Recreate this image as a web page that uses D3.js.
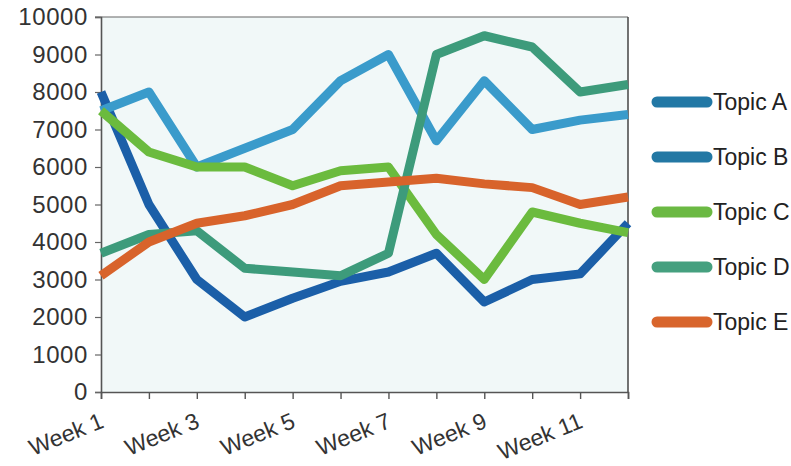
<!DOCTYPE html>
<html>
<head>
<meta charset="utf-8">
<script src="https://cdn.jsdelivr.net/npm/d3@7"></script>
<style>
  html, body { margin: 0; padding: 0; background: #ffffff; }
  svg { display: block; font-family: "Liberation Sans", Arial, sans-serif; }
</style>
</head>
<body>
<svg id="chart" width="791" height="466"></svg>
<script>
// Weekly mentions per topic
const weeks = ["Week 1","Week 2","Week 3","Week 4","Week 5","Week 6","Week 7","Week 8","Week 9","Week 10","Week 11","Week 12"];
const topicNames = ["Topic A","Topic B","Topic C","Topic D","Topic E"];
const topicA = [8000, 5000, 3000, 2000, 2500, 2950, 3200, 3700, 2400, 3000, 3150, 4500];
const topicB = [7500, 8000, 6000, 6500, 7000, 8300, 9000, 6700, 8300, 7000, 7250, 7400];
const topicC = [7500, 6400, 6000, 6000, 5500, 5900, 6000, 4200, 3000, 4800, 4500, 4250];
const topicD = [3700, 4200, 4300, 3300, 3200, 3100, 3700, 9000, 9500, 9200, 8000, 8200];
const topicE = [3100, 4000, 4500, 4700, 5000, 5500, 5600, 5700, 5550, 5450, 5000, 5200];
const yTicks = [0, 1000, 2000, 3000, 4000, 5000, 6000, 7000, 8000, 9000, 10000];
const weekLabels = ["Week 1","Week 3","Week 5","Week 7","Week 9","Week 11"];

const lineColors = ["#1b5fa8", "#3a9bcb", "#6bbb3e", "#3d9b7b", "#d8632b"];
const legendColors = ["#2278a5", "#2378a4", "#6bb943", "#45a07f", "#d8652c"];

const series = topicNames.map((name, i) => ({
  name,
  values: [topicA, topicB, topicC, topicD, topicE][i]
}));

const svg = d3.select("#chart");
const plotLeft = 101, plotRight = 628, plotTop = 17, plotBottom = 392;

const x = d3.scalePoint().domain(weeks).range([plotLeft, plotRight]);
const y = d3.scaleLinear().domain([0, 10000]).range([plotBottom, plotTop]);

// plot background
svg.append("rect")
  .attr("x", plotLeft).attr("y", plotTop)
  .attr("width", plotRight - plotLeft).attr("height", plotBottom - plotTop)
  .attr("fill", "#f1f8f8");

// frame: top and right edges
svg.append("line").attr("x1", plotLeft - 6).attr("x2", plotRight).attr("y1", plotTop).attr("y2", plotTop)
  .attr("stroke", "#666").attr("stroke-width", 1.2);
svg.append("line").attr("x1", plotRight).attr("x2", plotRight).attr("y1", plotTop).attr("y2", plotBottom)
  .attr("stroke", "#444").attr("stroke-width", 1.5);

// y axis
const yAxis = svg.append("g")
  .attr("transform", `translate(${plotLeft},0)`)
  .call(d3.axisLeft(y).tickValues(yTicks).tickSize(6).tickPadding(7).tickFormat(d3.format("d")));
yAxis.select(".domain").attr("stroke", "#555").attr("stroke-width", 1.6);
yAxis.selectAll(".tick line").attr("stroke", "#666").attr("stroke-width", 1.2);
yAxis.selectAll(".tick text")
  .attr("font-size", 24)
  .attr("fill", "#333")
  .attr("font-family", "'Liberation Sans', Arial, sans-serif")
  .attr("letter-spacing", "0.6px");

// x axis
const xAxis = svg.append("g")
  .attr("transform", `translate(0,${plotBottom})`)
  .call(d3.axisBottom(x).tickSize(7).tickFormat(""));
xAxis.select(".domain").attr("stroke", "#555").attr("stroke-width", 1.6);
xAxis.selectAll(".tick line").attr("stroke", "#555").attr("stroke-width", 1.4);

svg.append("g").selectAll("text")
  .data(weekLabels)
  .join("text")
  .attr("transform", d => `translate(${x(d) + 4},${plotBottom + 35}) rotate(-22)`)
  .attr("text-anchor", "end")
  .attr("font-size", 23)
  .attr("fill", "#333")
  .text(d => d);

// lines
const line = d3.line()
  .x((d, i) => x(weeks[i]))
  .y(d => y(d));

svg.append("g").selectAll("path")
  .data(series)
  .join("path")
  .attr("d", d => line(d.values))
  .attr("fill", "none")
  .attr("stroke", (d, i) => lineColors[i])
  .attr("stroke-width", 9)
  .attr("stroke-linejoin", "round")
  .attr("stroke-linecap", "butt");

// legend
const legend = svg.append("g").selectAll("g")
  .data(series)
  .join("g")
  .attr("transform", (d, i) => `translate(653,${102 + i * 55})`);
legend.append("line")
  .attr("x1", 4).attr("x2", 54).attr("y1", 0).attr("y2", 0)
  .attr("stroke", (d, i) => legendColors[i])
  .attr("stroke-width", 11)
  .attr("stroke-linecap", "round");
legend.append("text")
  .attr("x", 60).attr("y", 0).attr("dy", "0.36em")
  .attr("font-size", 23)
  .attr("fill", "#222")
  .text(d => d.name);
</script>
</body>
</html>
